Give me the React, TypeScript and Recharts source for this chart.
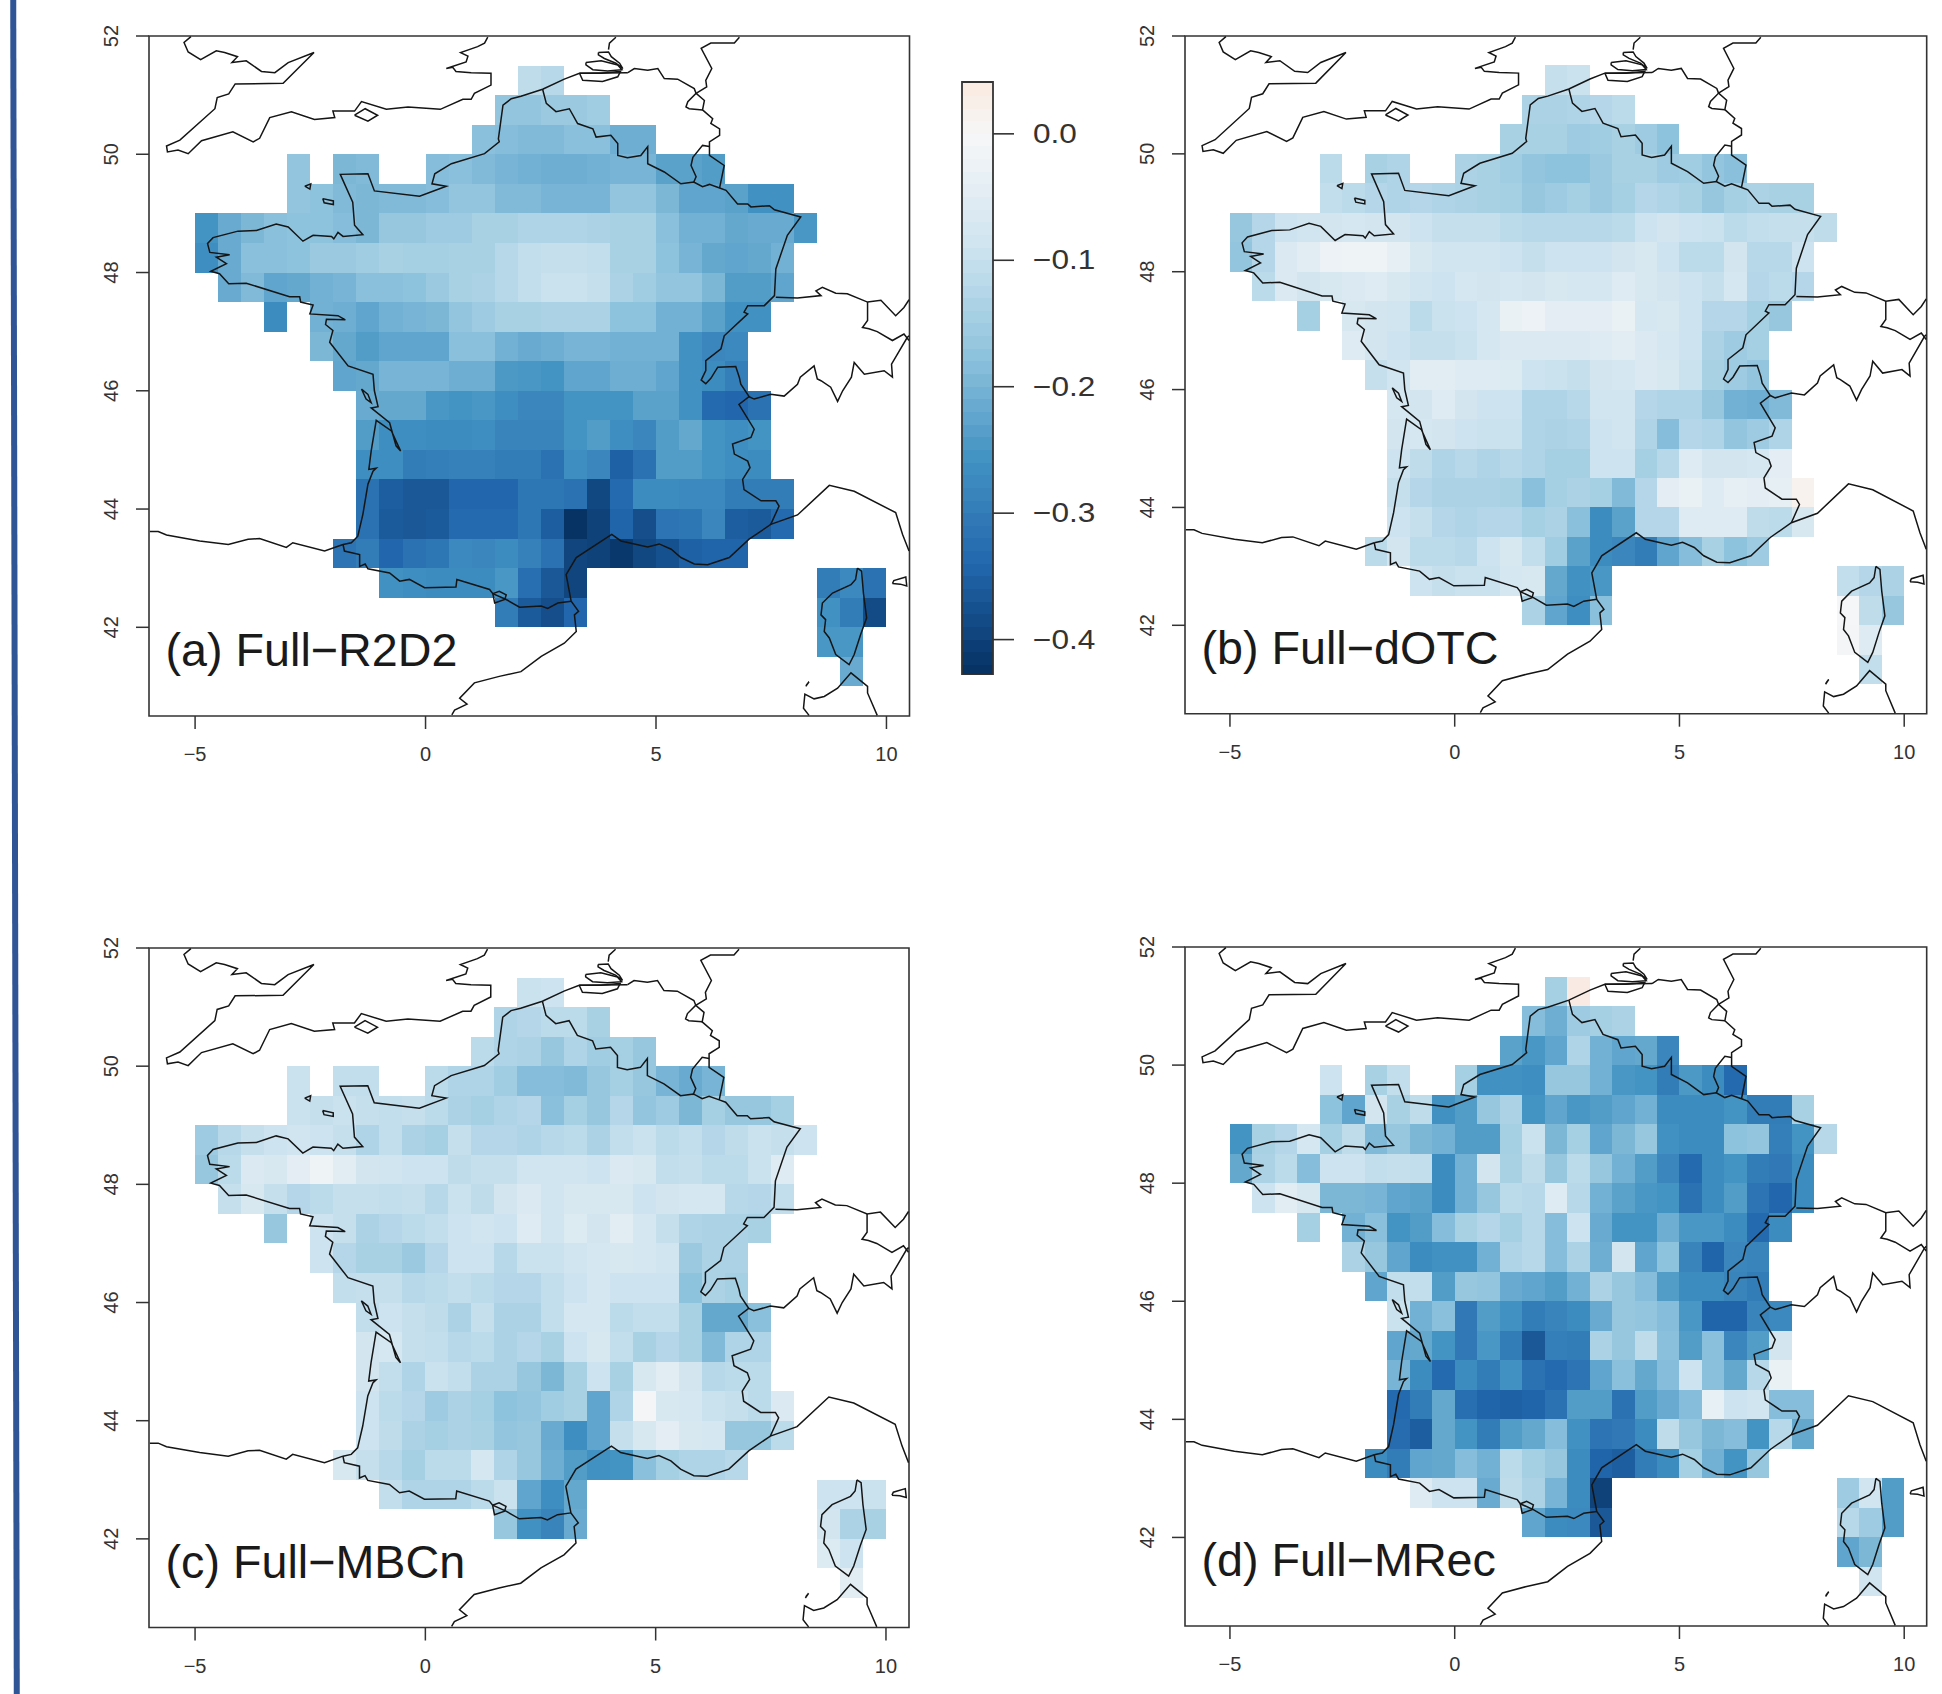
import React from 'react';
import { ScatterChart, Scatter, XAxis, YAxis, ReferenceArea } from 'recharts';

// grid runs: latitude and longitude of the first cell of each run of 0.5 degree cells
const RUN_LATS = [51, 50.5, 50, 49.5, 49.5, 49.5, 49, 48.5, 48, 47.5, 47, 47, 46.5, 46, 45.5, 45, 44.5, 44, 43.5, 43, 42.5, 42, 42.5, 42, 41.5, 41];
const RUN_LONS = [2, 1.5, 1, -3, -2, 0, -3, -5, -5, -4.5, -3.5, -2.5, -2.5, -2, -1.5, -1.5, -1.5, -1.5, -1.5, -2, -1, 1.5, 8.5, 8.5, 8.5, 9];

// values in thousandths, one list per run
const R2D2 = [
  [-110, -120],
  [-170, -170, -160, -160, -150],
  [-180, -185, -190, -190, -180, -180, -210, -210],
  [-170],
  [-195, -190],
  [-185, -180, -190, -200, -205, -210, -210, -205, -200, -200, -230, -230, -240],
  [-170, -175, -190, -195, -190, -190, -185, -170, -170, -190, -190, -200, -200, -200, -170, -170, -195, -225, -225, -230, -260, -260],
  [-255, -215, -195, -180, -175, -175, -185, -195, -165, -165, -155, -155, -140, -140, -130, -130, -130, -135, -140, -140, -180, -205, -205, -220, -215, -215, -250],
  [-265, -215, -180, -180, -175, -160, -160, -150, -140, -145, -145, -140, -140, -120, -105, -100, -100, -105, -140, -140, -175, -200, -220, -225, -220, -205],
  [-215, -190, -225, -220, -205, -200, -180, -180, -175, -160, -140, -135, -120, -105, -95, -95, -100, -135, -150, -170, -170, -195, -240, -240, -225],
  [-270],
  [-205, -210, -225, -205, -200, -195, -170, -155, -140, -140, -135, -135, -135, -175, -175, -205, -205, -230, -260, -260],
  [-195, -220, -240, -225, -225, -225, -180, -180, -205, -215, -210, -200, -200, -205, -205, -205, -260, -280, -275],
  [-225, -220, -200, -200, -200, -210, -210, -245, -250, -255, -225, -225, -210, -210, -225, -260, -270, -295],
  [-215, -220, -220, -250, -255, -250, -265, -280, -280, -255, -255, -255, -230, -230, -260, -335, -340, -320],
  [-240, -265, -265, -270, -270, -265, -285, -285, -285, -255, -240, -265, -280, -240, -220, -255, -265, -255],
  [-265, -265, -300, -295, -290, -290, -300, -300, -320, -265, -280, -350, -320, -240, -240, -255, -265, -270],
  [-320, -355, -365, -365, -340, -340, -340, -310, -310, -320, -390, -335, -270, -270, -275, -275, -300, -300, -300],
  [-320, -360, -365, -360, -335, -335, -335, -310, -355, -425, -400, -345, -380, -315, -310, -280, -355, -360, -335],
  [-315, -300, -340, -320, -310, -275, -280, -270, -290, -320, -395, -400, -415, -390, -375, -350, -345, -345],
  [-260, -265, -270, -270, -270, -250, -325, -365, -395],
  [-300, -360, -380, -340],
  [-300, -275, -320],
  [-260, -300, -385],
  [-250, -250],
  [-215],
];

const DOTC = [
  [-100, -95],
  [-135, -135, -130, -125, -115],
  [-140, -140, -140, -155, -150, -140, -155, -175],
  [-115],
  [-140, -130],
  [-135, -140, -150, -170, -175, -175, -160, -140, -140, -155, -150, -170, -180],
  [-105, -115, -125, -130, -125, -130, -135, -140, -145, -165, -155, -145, -160, -145, -125, -130, -140, -165, -145, -135, -140, -140],
  [-165, -125, -90, -85, -80, -75, -80, -80, -90, -100, -100, -100, -115, -120, -120, -120, -120, -115, -90, -80, -90, -95, -115, -105, -100, -100, -110],
  [-170, -125, -65, -50, -25, -20, -20, -40, -70, -85, -85, -85, -90, -100, -90, -90, -90, -80, -70, -90, -115, -115, -80, -120, -120, -90],
  [-115, -65, -80, -70, -65, -55, -70, -85, -90, -75, -80, -75, -80, -70, -75, -75, -55, -70, -80, -90, -100, -75, -125, -115, -125],
  [-145],
  [-70, -80, -85, -115, -95, -90, -75, -30, -25, -45, -45, -45, -30, -75, -70, -90, -125, -125, -145, -165],
  [-55, -80, -90, -100, -100, -95, -75, -65, -65, -65, -65, -55, -50, -65, -75, -90, -135, -155, -145],
  [-100, -85, -50, -50, -55, -55, -60, -90, -95, -100, -80, -75, -65, -70, -95, -140, -155, -170],
  [-75, -80, -55, -80, -90, -90, -130, -130, -120, -85, -85, -125, -130, -130, -165, -205, -210, -190],
  [-80, -75, -80, -90, -95, -95, -130, -135, -130, -90, -85, -130, -185, -125, -130, -170, -155, -130],
  [-90, -110, -130, -120, -130, -120, -130, -145, -145, -90, -90, -145, -120, -55, -80, -80, -75, -45],
  [-100, -125, -135, -135, -135, -140, -180, -145, -135, -145, -190, -125, -45, -30, -55, -40, -45, -40, 15],
  [-90, -100, -125, -130, -125, -125, -145, -135, -180, -270, -230, -125, -125, -55, -55, -55, -110, -115, -70],
  [-115, -80, -115, -115, -120, -90, -70, -105, -150, -230, -270, -280, -300, -225, -185, -140, -175, -155],
  [-90, -100, -95, -95, -75, -70, -220, -260, -250],
  [-135, -225, -265, -180],
  [-105, -125, -135],
  [-5, -110, -165],
  [-10, -55],
  [-105],
];

const MBCN = [
  [-95, -90],
  [-130, -125, -115, -115, -140],
  [-115, -130, -135, -165, -130, -150, -145, -165],
  [-95],
  [-105, -105],
  [-115, -130, -130, -150, -185, -185, -190, -165, -145, -165, -200, -215, -200],
  [-95, -100, -95, -100, -105, -100, -115, -135, -145, -130, -125, -180, -145, -165, -125, -170, -155, -195, -145, -165, -165, -145],
  [-155, -120, -100, -90, -85, -90, -100, -130, -105, -135, -145, -100, -125, -125, -130, -120, -115, -135, -105, -95, -115, -105, -125, -110, -95, -100, -90],
  [-165, -115, -65, -70, -45, -20, -50, -80, -85, -90, -90, -110, -100, -100, -85, -85, -85, -90, -65, -70, -105, -100, -115, -115, -95, -55],
  [-100, -70, -100, -125, -115, -100, -100, -105, -100, -120, -95, -110, -80, -65, -85, -70, -70, -70, -90, -80, -75, -75, -120, -125, -105],
  [-165],
  [-90, -100, -135, -125, -115, -105, -90, -85, -90, -55, -85, -60, -80, -50, -75, -100, -130, -135, -135, -140],
  [-90, -125, -140, -140, -160, -125, -90, -90, -120, -95, -95, -85, -75, -70, -75, -85, -160, -135, -135],
  [-105, -100, -100, -120, -115, -105, -115, -125, -125, -105, -90, -75, -90, -90, -90, -175, -135, -145],
  [-105, -90, -100, -110, -135, -100, -135, -135, -105, -75, -75, -115, -105, -105, -140, -220, -220, -180],
  [-80, -75, -100, -105, -120, -115, -135, -125, -140, -90, -70, -105, -140, -125, -140, -190, -130, -130],
  [-80, -105, -130, -95, -105, -135, -135, -165, -195, -140, -90, -140, -70, -50, -80, -120, -115, -115],
  [-90, -115, -125, -155, -135, -145, -175, -170, -150, -140, -225, -130, -10, -70, -75, -95, -100, -115, -65],
  [-90, -110, -135, -145, -135, -140, -170, -165, -215, -265, -225, -100, -70, -45, -70, -75, -165, -165, -115],
  [-70, -100, -120, -145, -115, -115, -75, -130, -165, -210, -240, -260, -255, -180, -145, -130, -130, -120],
  [-105, -130, -130, -130, -115, -95, -225, -265, -220],
  [-165, -260, -285, -215],
  [-90, -90, -95],
  [-80, -135, -140],
  [-60, -90],
  [-50],
];

const MREC = [
  [-145, 35],
  [-185, -210, -155, -145, -135],
  [-230, -250, -225, -130, -205, -225, -220, -280],
  [-90],
  [-140, -105],
  [-145, -260, -260, -265, -165, -165, -205, -250, -255, -300, -245, -270, -335],
  [-175, -225, -80, -140, -110, -260, -240, -165, -135, -255, -225, -250, -240, -225, -205, -270, -270, -270, -255, -300, -300, -140],
  [-255, -140, -125, -75, -145, -110, -190, -165, -195, -205, -240, -240, -145, -95, -195, -145, -225, -195, -165, -260, -270, -270, -175, -170, -295, -255, -120],
  [-220, -135, -115, -185, -90, -90, -105, -100, -105, -270, -205, -80, -140, -110, -165, -115, -165, -205, -240, -280, -335, -270, -255, -300, -305, -270],
  [-90, -50, -70, -195, -195, -200, -225, -230, -270, -205, -165, -115, -120, -55, -120, -205, -230, -250, -255, -320, -270, -240, -315, -340, -270],
  [-145],
  [-205, -180, -255, -240, -185, -140, -125, -145, -120, -185, -90, -215, -255, -255, -210, -250, -250, -270, -335, -270],
  [-135, -165, -225, -270, -260, -260, -205, -130, -120, -185, -135, -210, -80, -225, -175, -285, -345, -280, -285],
  [-225, -105, -105, -240, -165, -170, -215, -225, -240, -205, -135, -165, -185, -240, -270, -270, -285, -300],
  [-95, -205, -180, -305, -240, -260, -300, -285, -270, -215, -165, -170, -185, -250, -345, -345, -285, -275],
  [-225, -220, -255, -305, -250, -300, -365, -295, -300, -135, -165, -110, -180, -240, -180, -280, -240, -80],
  [-200, -270, -335, -270, -300, -260, -320, -335, -315, -225, -180, -220, -185, -90, -180, -220, -120, -30],
  [-335, -300, -220, -325, -345, -350, -345, -320, -240, -240, -320, -240, -215, -185, -35, -90, -85, -185, -185],
  [-330, -355, -220, -255, -300, -240, -220, -185, -260, -315, -305, -270, -110, -165, -195, -185, -255, -120, -220],
  [-270, -300, -225, -220, -185, -205, -115, -145, -165, -270, -345, -355, -300, -270, -145, -205, -255, -165],
  [-55, -90, -90, -215, -110, -135, -200, -270, -400],
  [-225, -270, -275, -365],
  [-155, -85, -240],
  [-120, -155, -240],
  [-225, -195],
  [-85],
];

// outlines as lon, lat pairs
const ENGLAND = [[-5.09, 51.99], [-5.24, 51.89], [-5.15, 51.73], [-4.88, 51.6], [-4.54, 51.75], [-4.36, 51.72], [-4.08, 51.65], [-4.2, 51.55], [-3.89, 51.58], [-3.56, 51.4], [-3.27, 51.38], [-2.98, 51.55], [-2.42, 51.72], [-3.09, 51.2], [-4.13, 51.19], [-4.27, 51.02], [-4.52, 50.96], [-4.57, 50.77], [-5.33, 50.24], [-5.62, 50.14], [-5.6, 50.04], [-5.37, 50.07], [-5.15, 50.01], [-4.86, 50.23], [-4.18, 50.38], [-3.74, 50.21], [-3.6, 50.27], [-3.38, 50.62], [-2.91, 50.72], [-2.41, 50.59], [-1.97, 50.62], [-2.01, 50.73], [-1.54, 50.73], [-1.39, 50.89], [-0.85, 50.76], [-0.38, 50.8], [0.32, 50.76], [0.81, 50.93], [0.99, 50.93], [1.06, 51.03], [1.42, 51.17], [1.42, 51.37], [0.99, 51.38], [0.66, 51.4], [0.59, 51.47], [0.45, 51.45], [0.88, 51.56], [0.92, 51.66], [0.76, 51.72], [1.13, 51.82], [1.28, 51.88], [1.35, 51.98]];
const WIGHT = [[-1.54, 50.66], [-1.31, 50.77], [-1.04, 50.66], [-1.25, 50.56], [-1.54, 50.66]];
const GUERNSEY = [[-2.62, 49.46], [-2.49, 49.5], [-2.51, 49.41], [-2.62, 49.46]];
const JERSEY = [[-2.23, 49.25], [-2.0, 49.21], [-2.0, 49.15], [-2.2, 49.18], [-2.23, 49.25]];
const ATLANTIC_COAST = [[4.39, 51.38], [3.34, 51.37], [3.01, 51.27], [2.54, 51.1], [2.07, 50.98], [1.86, 50.94], [1.68, 50.83], [1.58, 50.26], [1.6, 50.21], [1.28, 50.01], [0.56, 49.84], [0.2, 49.67], [0.14, 49.5], [0.45, 49.46], [-0.13, 49.29], [-1.11, 49.38], [-1.25, 49.67], [-1.85, 49.66], [-1.58, 49.19], [-1.54, 48.8], [-1.36, 48.64], [-1.79, 48.61], [-1.9, 48.68], [-1.99, 48.57], [-2.04, 48.61], [-2.44, 48.63], [-2.66, 48.53], [-2.98, 48.77], [-3.24, 48.82], [-3.67, 48.71], [-4.07, 48.7], [-4.61, 48.59], [-4.73, 48.49], [-4.68, 48.34], [-4.25, 48.3], [-4.54, 48.26], [-4.32, 48.15], [-4.66, 48.02], [-4.47, 47.98], [-4.27, 47.81], [-3.89, 47.82], [-2.95, 47.59], [-2.73, 47.59], [-2.71, 47.5], [-2.44, 47.45], [-2.51, 47.3], [-1.9, 47.27], [-1.74, 47.2], [-2.15, 47.21], [-2.17, 47.12], [-2.01, 47.02], [-2.08, 46.82], [-1.68, 46.42], [-1.14, 46.28], [-1.11, 46.0], [-1.03, 45.73], [-1.18, 45.71], [-0.78, 45.46], [-0.64, 45.07], [-0.54, 44.98], [-0.74, 45.32], [-1.07, 45.5], [-1.18, 44.98], [-1.23, 44.67], [-1.07, 44.69], [-1.14, 44.64], [-1.25, 44.42], [-1.36, 43.91], [-1.47, 43.54], [-1.61, 43.43], [-1.79, 43.4]];
const SPAIN_NORTH = [[-5.98, 43.62], [-5.8, 43.62], [-5.62, 43.56], [-4.9, 43.46], [-4.28, 43.4], [-3.85, 43.49], [-3.6, 43.5], [-3.02, 43.35], [-2.88, 43.43], [-2.19, 43.29], [-1.79, 43.4]];
const PYRENEES = [[-1.79, 43.4], [-1.76, 43.29], [-1.43, 43.23], [-1.43, 43.03], [-1.31, 43.07], [-1.25, 42.99], [-0.78, 42.92], [-0.56, 42.78], [-0.35, 42.81], [-0.02, 42.67], [0.66, 42.68], [0.68, 42.81], [1.39, 42.64], [1.46, 42.57], [1.75, 42.47], [2.04, 42.34], [2.51, 42.36], [2.65, 42.32], [2.87, 42.41], [3.16, 42.44]];
const ANDORRA = [[1.46, 42.57], [1.5, 42.41], [1.72, 42.47], [1.75, 42.55], [1.6, 42.61], [1.46, 42.57]];
const MEDITERRANEAN = [[0.57, 40.52], [0.63, 40.6], [0.9, 40.7], [0.74, 40.8], [1.06, 41.06], [1.6, 41.17], [2.07, 41.25], [2.51, 41.51], [3.01, 41.73], [3.27, 41.93], [3.23, 42.21], [3.32, 42.27], [3.16, 42.44], [3.05, 42.89], [3.27, 43.18], [4.04, 43.57], [4.24, 43.46], [4.82, 43.36], [5.07, 43.41], [5.33, 43.32], [5.54, 43.18], [5.83, 43.07], [6.12, 43.06], [6.59, 43.18], [7.02, 43.49], [7.49, 43.74], [8.07, 43.9], [8.76, 44.4], [9.3, 44.3], [10.2, 43.94], [10.35, 43.57], [10.49, 43.29]];
const FRANCE_EAST = [[2.54, 51.1], [2.62, 50.86], [2.83, 50.72], [3.12, 50.77], [3.3, 50.52], [3.63, 50.43], [3.7, 50.29], [4.02, 50.32], [4.17, 50.18], [4.17, 49.98], [4.38, 49.94], [4.67, 49.98], [4.82, 50.13], [4.82, 49.84], [5.18, 49.7], [5.54, 49.5], [5.82, 49.53], [6.01, 49.45], [6.16, 49.49], [6.38, 49.43], [6.52, 49.39], [6.77, 49.16], [6.99, 49.16], [7.06, 49.11], [7.46, 49.13], [7.57, 49.06], [8.14, 48.94], [7.85, 48.63], [7.6, 48.06], [7.57, 47.61], [7.35, 47.44], [6.99, 47.44], [6.91, 47.33], [6.99, 47.3], [6.48, 46.93], [6.41, 46.71], [6.08, 46.51], [6.08, 46.34], [5.98, 46.18], [6.08, 46.12], [6.19, 46.21], [6.34, 46.4], [6.73, 46.41], [6.81, 46.22], [6.84, 46.11], [7.02, 45.9], [6.8, 45.77], [7.13, 45.35], [7.06, 45.21], [6.66, 45.1], [6.7, 44.93], [6.99, 44.81], [7.04, 44.7], [6.88, 44.5], [6.91, 44.33], [7.28, 44.14], [7.6, 44.14], [7.67, 44.05], [7.49, 43.74]];
const SWISS_ITALY = [[7.02, 45.9], [7.13, 45.86], [7.49, 45.94], [7.78, 45.91], [8.07, 46.11], [8.13, 46.23], [8.43, 46.42], [8.5, 46.2], [8.58, 46.17], [8.79, 46.06], [8.94, 45.82], [9.05, 46.0], [9.24, 46.23], [9.3, 46.48], [9.52, 46.28], [9.95, 46.34], [10.13, 46.23], [10.11, 46.45], [10.45, 46.9], [10.49, 46.93]];
const RHINE = [[7.6, 47.58], [8.07, 47.57], [8.58, 47.61], [8.47, 47.69], [8.61, 47.75], [8.9, 47.65], [9.15, 47.64], [9.59, 47.5], [9.88, 47.53], [10.2, 47.27], [10.38, 47.41], [10.49, 47.54]];
const SWISS_AUSTRIA = [[9.59, 47.5], [9.59, 47.19], [9.48, 47.07], [9.62, 47.05], [9.8, 47.0], [10.13, 46.85], [10.38, 46.96], [10.49, 46.85]];
const LUXEMBOURG = [[5.82, 49.53], [5.87, 49.62], [5.76, 49.81], [5.8, 49.95], [6.01, 50.15], [6.16, 50.13]];
const GERMANY_WEST = [[6.38, 49.43], [6.48, 49.81], [6.16, 49.98], [6.16, 50.21], [6.38, 50.32], [6.38, 50.43], [6.19, 50.52], [6.23, 50.6], [6.01, 50.75], [6.05, 50.91], [5.87, 51.03], [6.1, 51.14], [6.08, 51.25], [6.21, 51.45], [5.98, 51.79], [6.19, 51.88], [6.7, 51.88], [6.81, 51.98]];
const BELGIUM_NL = [[6.01, 50.75], [5.72, 50.77], [5.65, 50.8], [5.69, 50.89], [5.87, 51.03], [5.83, 51.11], [5.47, 51.27], [5.18, 51.28], [5.04, 51.45], [4.82, 51.42], [4.53, 51.45], [4.39, 51.38]];
const DUTCH_COAST = [[4.13, 51.98], [3.99, 51.88], [3.97, 51.77]];
const ZEELAND_A = [[3.75, 51.72], [3.97, 51.73], [4.03, 51.65], [4.21, 51.54], [4.28, 51.45], [4.13, 51.54], [3.88, 51.62], [3.75, 51.68], [3.75, 51.72]];
const ZEELAND_B = [[3.48, 51.55], [3.81, 51.58], [4.17, 51.51], [4.26, 51.43], [3.95, 51.41], [3.63, 51.43], [3.48, 51.51], [3.48, 51.55]];
const ZEELAND_C = [[3.34, 51.37], [3.41, 51.25], [3.84, 51.23], [4.17, 51.31], [4.23, 51.4], [3.81, 51.37], [3.34, 51.37]];
const OLERON = [[-1.39, 46.03], [-1.25, 45.94], [-1.18, 45.8], [-1.29, 45.86], [-1.39, 46.03]];
const CORSICA = [[9.37, 43.0], [9.46, 42.95], [9.5, 42.58], [9.57, 42.16], [9.44, 41.88], [9.3, 41.54], [9.19, 41.37], [8.9, 41.54], [8.76, 41.82], [8.65, 41.93], [8.68, 42.13], [8.58, 42.21], [8.61, 42.41], [8.83, 42.58], [9.23, 42.72], [9.33, 42.81], [9.37, 43.0]];
const SARDINIA = [[9.8, 40.51], [9.59, 40.89], [9.59, 41.0], [9.23, 41.23], [8.94, 40.97], [8.65, 40.83], [8.43, 40.79], [8.23, 40.87], [8.2, 40.63], [8.32, 40.51]];
const ASINARA = [[8.25, 41.0], [8.32, 41.08], [8.26, 41.02]];
const ELBA = [[10.13, 42.74], [10.16, 42.79], [10.42, 42.85], [10.44, 42.7], [10.3, 42.73], [10.13, 42.74]];

const OUTLINES = [ENGLAND, WIGHT, GUERNSEY, JERSEY, ATLANTIC_COAST, SPAIN_NORTH, PYRENEES, ANDORRA, MEDITERRANEAN, FRANCE_EAST, SWISS_ITALY, RHINE, SWISS_AUSTRIA, LUXEMBOURG, GERMANY_WEST, BELGIUM_NL, DUTCH_COAST, ZEELAND_A, ZEELAND_B, ZEELAND_C, OLERON, CORSICA, SARDINIA, ASINARA, ELBA];

const X_TICKS = [-5, 0, 5, 10];
const Y_TICKS = [42, 44, 46, 48, 50, 52];
const BAR_TICKS = [0, -0.1, -0.2, -0.3, -0.4];
const BAR_LEVELS = [-0.428, -0.42, -0.41, -0.4, -0.39, -0.38, -0.37, -0.36, -0.35, -0.34, -0.33, -0.32, -0.31, -0.3, -0.29, -0.28, -0.27, -0.26, -0.25, -0.24, -0.23, -0.22, -0.21, -0.2, -0.19, -0.18, -0.17, -0.16, -0.15, -0.14, -0.13, -0.12, -0.11, -0.1, -0.09, -0.08, -0.07, -0.06, -0.05, -0.04, -0.03, -0.02, -0.01, 0, 0.01, 0.02, 0.03, 0.041];

const CELL = 0.5;
const INK = '#333333';
const RAMP = [
  [-0.428, 5, 48, 97],
  [-0.342, 33, 102, 172],
  [-0.256, 67, 147, 195],
  [-0.171, 146, 197, 222],
  [-0.085, 209, 229, 240],
  [0, 247, 247, 247],
  [0.085, 253, 219, 199],
];

function colorOf(v: number) {
  let i = 0;
  while (i < RAMP.length - 2 && v > RAMP[i + 1][0]) i++;
  const a = RAMP[i];
  const b = RAMP[i + 1];
  const t = Math.max(0, Math.min(1, (v - a[0]) / (b[0] - a[0])));
  const mix = (k: number) => Math.round(a[k] + (b[k] - a[k]) * t);
  return `rgb(${mix(1)},${mix(2)},${mix(3)})`;
}

const XTick = ({ x, y, payload }: any) => (
  <text x={x} y={y} textAnchor="middle" fontSize={20} fill={INK} fontFamily="Liberation Sans">
    {String(payload.value).replace('-', '\u2212')}
  </text>
);

const YTick = ({ x, y, payload }: any) => (
  <text x={x} y={y} transform={`rotate(-90 ${x} ${y})`} textAnchor="middle" fontSize={20} fill={INK} fontFamily="Liberation Sans">
    {payload.value}
  </text>
);

const BarTick = ({ x, y, payload }: any) => (
  <text
    transform={`translate(${x} ${y + 9}) scale(1.17 1)`}
    textAnchor="start"
    fontSize={27}
    fill={INK}
    fontFamily="Liberation Sans"
  >
    {payload.value === 0 ? '0.0' : `\u2212${Math.abs(payload.value).toFixed(1)}`}
  </text>
);

interface MapProps {
  title: string;
  values: number[][];
  left: number;
  top: number;
  width: number;
  height: number;
}

const MapPanel: React.FC<MapProps> = ({ title, values, left, top, width, height }) => (
  <div style={{ position: 'absolute', left: left - 70, top: top - 10 }}>
    <ScatterChart
      width={width + 80}
      height={height + 70}
      margin={{ top: 10, right: 10, bottom: 0, left: 0 }}
    >
      <XAxis
        type="number"
        dataKey="x"
        domain={[-6, 10.5]}
        ticks={X_TICKS}
        height={60}
        axisLine={false}
        tickSize={13}
        tickMargin={32}
        tickLine={{ stroke: INK, strokeWidth: 1.5 }}
        tick={<XTick />}
        allowDataOverflow
      />
      <YAxis
        type="number"
        dataKey="y"
        domain={[40.5, 52]}
        ticks={Y_TICKS}
        width={70}
        axisLine={false}
        tickSize={13}
        tickMargin={18}
        tickLine={{ stroke: INK, strokeWidth: 1.5 }}
        tick={<YTick />}
        allowDataOverflow
      />
      {values.flatMap((run, r) =>
        run.map((v, c) => (
          <ReferenceArea
            key={`${r}-${c}`}
            x1={RUN_LONS[r] + c * CELL}
            x2={RUN_LONS[r] + (c + 1) * CELL}
            y1={RUN_LATS[r]}
            y2={RUN_LATS[r] + CELL}
            fill={colorOf(v / 1000)}
            fillOpacity={1}
            stroke="none"
            shapeRendering="crispEdges"
            ifOverflow="visible"
          />
        )),
      )}
      {OUTLINES.map((outline, i) => (
        <Scatter
          key={i}
          data={outline.map(([x, y]) => ({ x, y }))}
          line={{ stroke: '#151515', strokeWidth: 1.5 }}
          shape={() => <g />}
          isAnimationActive={false}
        />
      ))}
      <ReferenceArea x1={-6} x2={10.5} y1={40.5} y2={52} fill="none" stroke={INK} strokeWidth={1.6} ifOverflow="visible" />
      <text x={70 + 16.5} y={10 + height - 50} fontSize={46.7} fill="#1a1a1a" fontFamily="Liberation Sans">
        {title}
      </text>
    </ScatterChart>
  </div>
);

const ColorBar = () => (
  <div style={{ position: 'absolute', left: 952, top: 72 }}>
    <ScatterChart width={180} height={603} margin={{ top: 10, right: 0, bottom: 0, left: 10 }}>
      <XAxis type="number" dataKey="x" domain={[0, 1]} hide allowDataOverflow height={0} />
      <YAxis
        type="number"
        dataKey="y"
        orientation="right"
        domain={[-0.428, 0.041]}
        ticks={BAR_TICKS}
        width={139}
        axisLine={false}
        tickSize={21}
        tickMargin={19}
        tickLine={{ stroke: INK, strokeWidth: 1.6 }}
        tick={<BarTick />}
        interval={0}
        allowDataOverflow
      />
      <Scatter data={[]} isAnimationActive={false} />
      {BAR_LEVELS.slice(1).map((level, i) => (
        <ReferenceArea
          key={level}
          x1={0}
          x2={1}
          y1={BAR_LEVELS[i]}
          y2={level}
          fill={colorOf((BAR_LEVELS[i] + level) / 2)}
          fillOpacity={1}
          stroke="none"
          shapeRendering="crispEdges"
        />
      ))}
      <ReferenceArea x1={0} x2={1} y1={-0.428} y2={0.041} fill="none" stroke={INK} strokeWidth={1.8} ifOverflow="visible" />
    </ScatterChart>
  </div>
);

const App = () => (
  <div style={{ position: 'absolute', left: 0, top: 0, width: 1942, height: 1694, background: '#fff', overflow: 'hidden' }}>
    <div style={{ position: 'absolute', left: 12, top: -20, width: 6, height: 1734, background: '#2f5597', transform: 'rotate(-0.12deg)' }} />
    <MapPanel title={'(a) Full\u2212R2D2'} values={R2D2} left={148.5} top={36} width={760.5} height={680} />
    <MapPanel title={'(b) Full\u2212dOTC'} values={DOTC} left={1185} top={36} width={741.7} height={677.7} />
    <MapPanel title={'(c) Full\u2212MBCn'} values={MBCN} left={148.5} top={947.5} width={760} height={679.5} />
    <MapPanel title={'(d) Full\u2212MRec'} values={MREC} left={1185} top={946.7} width={741.7} height={679} />
    <ColorBar />
  </div>
);

export default App;
